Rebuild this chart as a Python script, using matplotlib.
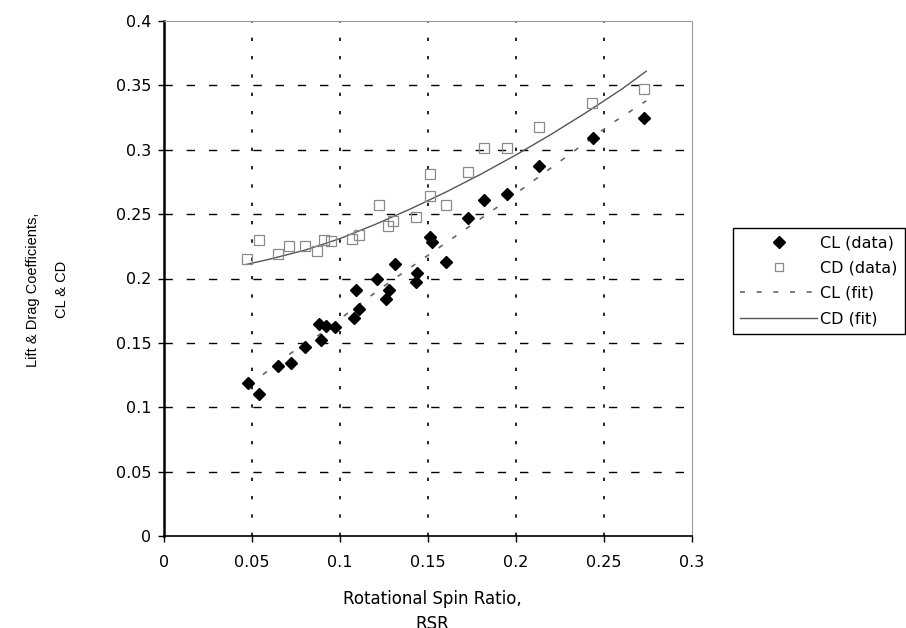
import numpy as np
import matplotlib
matplotlib.use('Agg')
from matplotlib import pyplot as plt
from matplotlib.lines import Line2D

# lift coefficient measurements
cl_rsr = [0.048, 0.054, 0.065, 0.072, 0.080, 0.088, 0.089, 0.092, 0.097,
          0.108, 0.109, 0.111, 0.121, 0.126, 0.128, 0.131, 0.143, 0.144,
          0.151, 0.152, 0.160, 0.173, 0.182, 0.195, 0.213, 0.244, 0.273]
cl_val = [0.119, 0.110, 0.132, 0.134, 0.147, 0.165, 0.152, 0.163, 0.162,
          0.169, 0.191, 0.176, 0.200, 0.184, 0.191, 0.211, 0.197, 0.204,
          0.232, 0.228, 0.213, 0.247, 0.261, 0.266, 0.287, 0.309, 0.325]

# drag coefficient measurements
cd_rsr = [0.047, 0.054, 0.065, 0.071, 0.080, 0.087, 0.091, 0.095, 0.107,
          0.111, 0.122, 0.127, 0.130, 0.143, 0.151, 0.151, 0.160, 0.173,
          0.182, 0.195, 0.213, 0.243, 0.273]
cd_val = [0.215, 0.230, 0.219, 0.225, 0.225, 0.221, 0.230, 0.229, 0.231,
          0.234, 0.257, 0.241, 0.245, 0.248, 0.281, 0.264, 0.257, 0.283,
          0.301, 0.301, 0.318, 0.336, 0.347]

# trend lines
cl_fit_rsr = [0.048, 0.054, 0.071, 0.089, 0.110, 0.130, 0.150, 0.171, 0.190,
              0.206, 0.225, 0.240, 0.255, 0.264, 0.274]
cl_fit_val = [0.119, 0.123, 0.141, 0.157, 0.179, 0.199, 0.218, 0.238, 0.256,
              0.272, 0.291, 0.306, 0.321, 0.329, 0.338]

cd_fit_rsr = [0.047, 0.060, 0.080, 0.100, 0.120, 0.140, 0.160, 0.180, 0.200,
              0.220, 0.240, 0.260, 0.274]
cd_fit_val = [0.211, 0.215, 0.222, 0.231, 0.242, 0.254, 0.267, 0.281, 0.296,
              0.312, 0.329, 0.347, 0.361]

x_ticks = [0, 0.05, 0.1, 0.15, 0.2, 0.25, 0.3]
y_ticks = [0, 0.05, 0.1, 0.15, 0.2, 0.25, 0.3, 0.35, 0.4]

plt.rcParams['font.family'] = ['DejaVu Sans']

fig = plt.figure(figsize=(9.06, 6.28), dpi=100)
ax = fig.add_axes([164 / 906, 92 / 628, 528 / 906, 515 / 628])

ax.set_xlim(x_ticks[0], x_ticks[-1])
ax.set_ylim(y_ticks[0], y_ticks[-1])
ax.set_xticks(x_ticks)
ax.set_xticklabels(['%g' % t for t in x_ticks])
ax.set_yticks(y_ticks)
ax.set_yticklabels(['%g' % t for t in y_ticks])
ax.tick_params(axis='both', direction='out', length=4, width=1, labelsize=11.5)
ax.tick_params(axis='x', pad=10)
ax.tick_params(axis='y', pad=5)

# inner grid: dashed horizontals, dotted verticals
for y in y_ticks[1:-1]:
    ax.axhline(y, color='k', lw=1.0, linestyle=(0, (6, 10)), zorder=1)
for x in x_ticks[1:-1]:
    ax.axvline(x, color='k', lw=1.2, linestyle=(0, (2, 9)), zorder=1)

ax.spines['left'].set_linewidth(1.8)
ax.spines['bottom'].set_linewidth(1.2)
for side in ['top', 'right']:
    ax.spines[side].set_linestyle((0, (1, 1)))
    ax.spines[side].set_color('#9a9a9a')
    ax.spines[side].set_linewidth(0.8)

ax.plot(cd_fit_rsr, cd_fit_val, color='#555555', lw=1.0, zorder=3)
ax.plot(cl_fit_rsr, cl_fit_val, color='#666666', lw=1.2,
        linestyle=(0, (3, 7)), zorder=3)
ax.plot(cd_rsr, cd_val, linestyle='none', marker='s', markersize=7,
        markerfacecolor='none', markeredgecolor='#8a8a8a',
        markeredgewidth=0.9, zorder=4)
ax.plot(cl_rsr, cl_val, linestyle='none', marker='D', markersize=6.5,
        color='black', zorder=5)

ax.set_xlabel('Rotational Spin Ratio,\nRSR', fontsize=12, linespacing=1.5)
ax.xaxis.set_label_coords(0.508, -0.105)
ax.set_ylabel('Lift & Drag Coefficients,\nCL & CD', fontsize=10.5,
              family=['Liberation Sans', 'DejaVu Sans'], linespacing=2.4)
ax.yaxis.set_label_coords(-0.18, 0.478)

handles = [
    Line2D([], [], linestyle='none', marker='D', markersize=6, color='black'),
    Line2D([], [], linestyle='none', marker='s', markersize=6,
           markerfacecolor='none', markeredgecolor='#8a8a8a',
           markeredgewidth=0.9),
    Line2D([], [], color='#666666', lw=1.2, linestyle=(0, (3, 7))),
    Line2D([], [], color='#555555', lw=1.0),
]
labels = ['CL (data)', 'CD (data)', 'CL (fit)', 'CD (fit)']
leg = fig.legend(handles, labels, loc='upper left',
                 bbox_to_anchor=(733 / 906, 1 - 228 / 628),
                 bbox_transform=fig.transFigure, borderaxespad=0,
                 fontsize=11.5, numpoints=1, handlelength=4.8,
                 handletextpad=0.2, labelspacing=0.65, borderpad=0.45,
                 fancybox=False, framealpha=1)
leg.get_frame().set_edgecolor('black')
leg.get_frame().set_linewidth(1.0)

fig.savefig('out.png', dpi=100)
